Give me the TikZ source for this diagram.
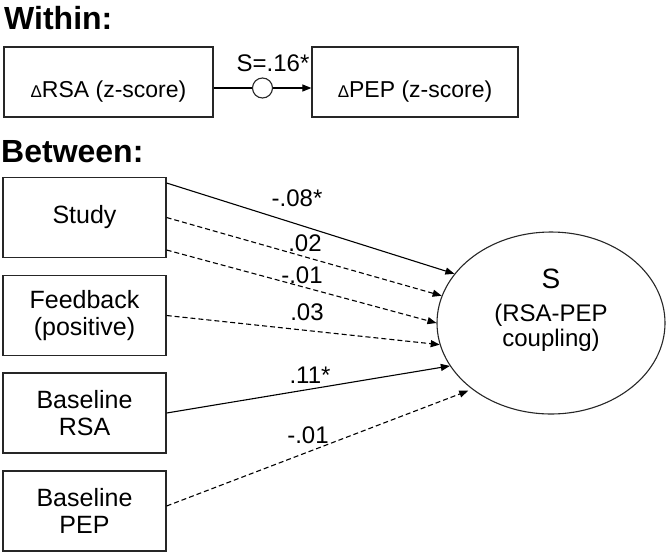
\documentclass[tikz,border=0pt]{standalone}
\usepackage{fontspec}
\setmainfont{Liberation Sans}
\usetikzlibrary{shapes.geometric,arrows.meta}

\begin{document}
\begin{tikzpicture}[x=1pt,y=-1pt,
    head/.style={anchor=base west,inner sep=0pt,font=\fontsize{32}{36}\selectfont\bfseries},
    dbox/.style={draw=black!85,line width=1.2pt,minimum height=70pt,inner sep=0pt,
        text height=35pt,text depth=5pt,font=\fontsize{23}{27}\selectfont},
    box/.style={draw=black!85,line width=1.2pt,minimum width=163pt,minimum height=80pt,
        inner sep=0pt,align=center,font=\fontsize{25}{27}\selectfont},
    coupling/.style={ellipse,draw=black!85,line width=1.1pt,minimum width=228pt,minimum height=182pt},
    knot/.style={circle,draw=black!85,line width=1.1pt,fill=white,minimum size=20pt,inner sep=0pt},
    coef/.style={inner sep=0pt,font=\fontsize{24}{27}\selectfont},
    link/.style={line width=1.1pt,-{Triangle[length=9pt,width=7pt]}},
    nslink/.style={link,dash pattern=on 5pt off 3pt}]

    \useasboundingbox (0,0) rectangle (668,555);

    \node[head] (within) at (4,29) {Within:};
    \node[dbox,minimum width=209pt] (drsa) at (108.5,82) {{\fontsize{17}{17}\selectfont Δ}RSA (z-score)};
    \node[dbox,minimum width=206pt] (dpep) at (415,82) {{\fontsize{17}{17}\selectfont Δ}PEP (z-score)};
    \node[coef] (sval) at (273,63) {S=.16*};

    \draw[link] ([yshift=-6pt]drsa.east) -- node[knot] (dot) {} ([yshift=-6pt]dpep.west);

    \node[head] (between) at (1,162) {Between:};
    \node[box] (study) at (84.5,217.5) {Study};
    \node[box] (feed) at (84.5,315.5) {Feedback\\(positive)};
    \node[box] (brsa) at (84.5,413) {Baseline\\RSA};
    \node[box] (bpep) at (84.5,511) {Baseline\\PEP};

    \node[coupling] (s) at (551,323) {};
    \node[align=center,inner sep=0pt,font=\fontsize{24}{25}\selectfont] (stext) at (551,310)
        {{\fontsize{28}{30}\selectfont S}\\[8pt](RSA-PEP\\coupling)};

    \draw[link] ([yshift=34.5pt]study.east) -- (s.153);
    \draw[nslink] (study.east) -- (s.166);
    \draw[nslink] ([yshift=-32.5pt]study.east) -- (s.180);
    \draw[nslink] (feed.east) -- (s.191);
    \draw[link] (brsa.east) -- (s.203);
    \draw[nslink,shorten >=4pt] ([yshift=5pt]bpep.east) -- (s.220);

    \node[coef] (c1) at (297,198) {-.08*};
    \node[coef] (c2) at (305,243) {.02};
    \node[coef] (c3) at (302,275) {-.01};
    \node[coef] (c4) at (307,312) {.03};
    \node[coef] (c5) at (310,375) {.11*};
    \node[coef] (c6) at (308,435) {-.01};
\end{tikzpicture}
\end{document}
